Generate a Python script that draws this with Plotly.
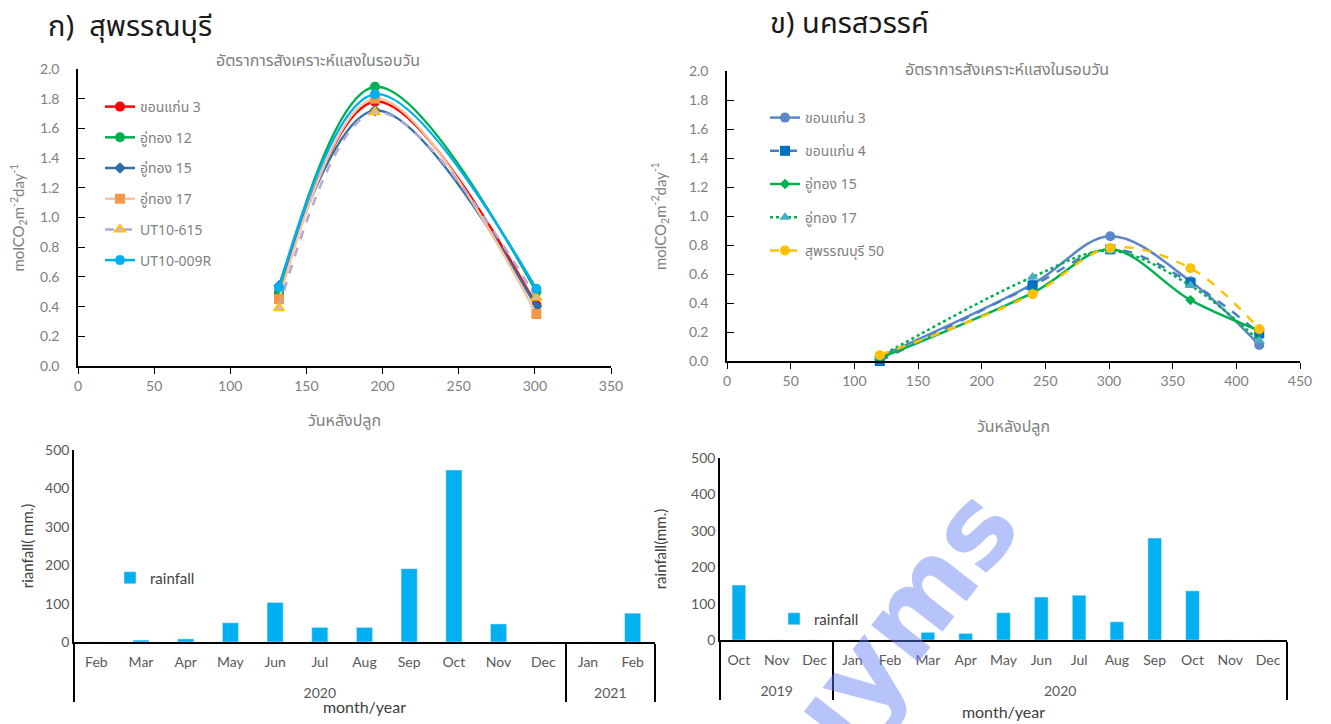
import plotly.graph_objects as go

# The page body has an 8 px margin; the figure starts 8 px in from the window's corner.
OFF = 8
W, H = 1331 - OFF, 724 - OFF

# ---------- Top-left: สุพรรณบุรี ----------
sp_days = [132, 195, 301]
sp_kk3 = [0.49, 1.78, 0.41]
sp_ut12 = [0.50, 1.88, 0.50]
sp_ut15 = [0.54, 1.72, 0.40]
sp_ut17 = [0.45, 1.80, 0.35]
sp_ut10_615 = [0.39, 1.71, 0.46]
sp_ut10_009r = [0.53, 1.83, 0.52]

# ---------- Top-right: นครสวรรค์ ----------
ns_days = [120, 240, 301, 364, 418]
ns_kk3 = [0.03, 0.53, 0.86, 0.55, 0.11]
ns_kk4 = [0.00, 0.52, 0.77, 0.54, 0.19]
ns_ut15 = [0.02, 0.47, 0.77, 0.42, 0.21]
ns_ut17 = [0.03, 0.58, 0.76, 0.52, 0.14]
ns_sp50 = [0.04, 0.46, 0.78, 0.64, 0.22]

# ---------- Bottom-left rainfall ----------
# (a zero-width space keeps repeated month names as distinct categories;
#  the <br> only pushes the year row a line lower)
ZW = "\u200b"
bl_years = ["<br>2020"] * 11 + ["<br>2021"] * 2
bl_months = ["Feb", "Mar", "Apr", "May", "Jun", "Jul", "Aug", "Sep", "Oct", "Nov", "Dec", "Jan", "Feb" + ZW]
bl_rain = [0, 5, 8, 50, 103, 38, 38, 191, 448, 47, 0, 0, 75]

# ---------- Bottom-right rainfall ----------
br_years = ["<br>2019"] * 3 + ["<br>2020"] * 12
br_months = ["Oct", "Nov", "Dec", "Jan", "Feb", "Mar", "Apr", "May", "Jun", "Jul", "Aug", "Sep",
             "Oct" + ZW, "Nov" + ZW, "Dec" + ZW]
br_rain = [151, 0, 0, 0, 0, 21, 18, 75, 118, 123, 50, 280, 135, 0, 0]


def px_x(p):
    return (p - OFF) / W


def px_y(p):
    return 1 - (p - OFF) / H


THAI = "Noto Sans Thai, Tahoma, Leelawadee UI, Noto Sans, DejaVu Sans, sans-serif"
LAT = "Lato, Noto Sans, sans-serif"
GREY = "#808080"
DGREY = "#404040"

fig = go.Figure()


def line_trace(x, y, name, lcolor, mcolor, symbol, dash="solid", xa="x", ya="y",
               legend="legend", mline=None, size=10, group=None):
    return go.Scatter(
        x=x, y=y, name=name, mode="lines+markers",
        line=dict(color=lcolor, width=2.5, dash=dash, shape="spline", smoothing=1.0),
        marker=dict(color=mcolor, symbol=symbol, size=size,
                    line=mline if mline else dict(width=0)),
        xaxis=xa, yaxis=ya, legend=legend, legendgroup=group or name,
        cliponaxis=False,
    )


# top-left series
fig.add_trace(line_trace(sp_days, sp_kk3, "ขอนแก่น 3", "#ff0000", "#ff0000", "circle", group="a1"))
fig.add_trace(line_trace(sp_days, sp_ut12, "อู่ทอง 12", "#00b050", "#00b050", "circle", group="a2"))
fig.add_trace(line_trace(sp_days, sp_ut15, "อู่ทอง 15", "#2e74a8", "#2e6da4", "diamond", size=9, group="a3"))
fig.add_trace(line_trace(sp_days, sp_ut17, "อู่ทอง 17", "#f8c4a0", "#f79646", "square", group="a4"))
fig.add_trace(line_trace(sp_days, sp_ut10_615, "UT10-615", "#b4a7d6", "#c9b8e0", "triangle-up", dash="dash",
                         mline=dict(color="#ffc000", width=1.8), size=9, group="a5"))
fig.add_trace(line_trace(sp_days, sp_ut10_009r, "UT10-009R", "#00b0f0", "#00b0f0", "circle", group="a6"))

# top-right series
fig.add_trace(line_trace(ns_days, ns_kk3, "ขอนแก่น 3", "#5b87c5", "#5b87c5", "circle", xa="x2", ya="y2",
                         legend="legend2", group="b1"))
fig.add_trace(line_trace(ns_days, ns_kk4, "ขอนแก่น 4", "#4a7cc4", "#0070c0", "square", dash="dash", xa="x2", ya="y2",
                         legend="legend2", group="b2"))
fig.add_trace(line_trace(ns_days, ns_ut15, "อู่ทอง 15", "#00b050", "#00b050", "diamond", xa="x2", ya="y2",
                         legend="legend2", size=8, group="b3"))
fig.add_trace(line_trace(ns_days, ns_ut17, "อู่ทอง 17", "#00b050", "#4bacc6", "triangle-up", dash="dot", xa="x2", ya="y2",
                         legend="legend2", group="b4"))
fig.add_trace(line_trace(ns_days, ns_sp50, "สุพรรณบุรี 50", "#ffc000", "#ffc000", "circle", dash="dash", xa="x2", ya="y2",
                         legend="legend2", group="b5"))

# bars
fig.add_trace(go.Bar(x=[bl_years, bl_months], y=bl_rain, name="rainfall", marker_color="#00b0f0",
                     xaxis="x3", yaxis="y3", legend="legend3"))
fig.add_trace(go.Bar(x=[br_years, br_months], y=br_rain, name="rainfall", marker_color="#00b0f0",
                     xaxis="x4", yaxis="y4", legend="legend4"))

tick_grey = dict(family=LAT, size=14, color=GREY)

fig.update_layout(
    width=W, height=H,
    margin=dict(l=0, r=0, t=0, b=0, autoexpand=False),
    paper_bgcolor="white", plot_bgcolor="white",
    font=dict(family=THAI, color=GREY),
    bargap=0.64,
    xaxis=dict(domain=[px_x(78), px_x(611)], range=[0, 350], dtick=50, anchor="y", automargin=False,
               showline=True, linecolor="black", linewidth=1.5, ticks="outside", ticklen=6,
               tickcolor="black", showgrid=False, zeroline=False, tickfont=tick_grey,
               title=dict(text="วันหลังปลูก", font=dict(family=THAI, size=16, color=GREY), standoff=22)),
    yaxis=dict(domain=[px_y(366), px_y(69)], range=[0, 2.0], dtick=0.2, tickformat=".1f", anchor="x",
               automargin=False,
               showline=True, linecolor="black", linewidth=1.5, ticks="inside", ticklen=7,
               tickcolor="black", showgrid=False, zeroline=False, tickfont=tick_grey, ticklabelstandoff=14,
               title=dict(text="molCO<sub>2</sub>m<sup>-2</sup>day<sup>-1</sup>",
                          font=dict(family=LAT, size=15, color=GREY), standoff=14)),
    xaxis2=dict(domain=[px_x(727), px_x(1300)], range=[0, 450], dtick=50, anchor="y2", automargin=False,
                showline=True, linecolor="black", linewidth=1.5, ticks="outside", ticklen=6,
                tickcolor="black", showgrid=False, zeroline=False, tickfont=tick_grey,
                title=dict(text="วันหลังปลูก", font=dict(family=THAI, size=16, color=GREY), standoff=33)),
    yaxis2=dict(domain=[px_y(361), px_y(71)], range=[0, 2.0], dtick=0.2, tickformat=".1f", anchor="x2",
                automargin=False,
                showline=True, linecolor="black", linewidth=1.5, ticks="inside", ticklen=7,
                tickcolor="black", showgrid=False, zeroline=False, tickfont=tick_grey, ticklabelstandoff=14,
                title=dict(text="molCO<sub>2</sub>m<sup>-2</sup>day<sup>-1</sup>",
                           font=dict(family=LAT, size=15, color=GREY), standoff=19)),
    xaxis3=dict(domain=[px_x(74), px_x(655)], type="multicategory", anchor="y3", automargin=False,
                showline=True, linecolor="black", linewidth=1.5, ticks="", ticklabelstandoff=6,
                showdividers=True, dividercolor="black", dividerwidth=1.5,
                showgrid=False, zeroline=False, tickfont=dict(family=LAT, size=14, color="#595959"),
                title=dict(text="month/year", font=dict(family=LAT, size=16, color=DGREY), standoff=2)),
    yaxis3=dict(domain=[px_y(642), px_y(450)], range=[0, 500], dtick=100, anchor="x3", automargin=False,
                showline=True, linecolor="black", linewidth=1.5, ticks="",
                showgrid=False, zeroline=False, tickfont=dict(family=LAT, size=14, color="#595959"),
                title=dict(text="rianfall( mm.)", font=dict(family=LAT, size=15, color=DGREY), standoff=8)),
    xaxis4=dict(domain=[px_x(720), px_x(1287)], type="multicategory", anchor="y4", automargin=False,
                showline=True, linecolor="black", linewidth=1.5, ticks="", ticklabelstandoff=6,
                showdividers=True, dividercolor="black", dividerwidth=1.5,
                showgrid=False, zeroline=False, tickfont=dict(family=LAT, size=14, color="#595959"),
                title=dict(text="month/year", font=dict(family=LAT, size=16, color=DGREY), standoff=9)),
    yaxis4=dict(domain=[px_y(640), px_y(458)], range=[0, 500], dtick=100, anchor="x4", automargin=False,
                showline=True, linecolor="black", linewidth=1.5, ticks="",
                showgrid=False, zeroline=False, tickfont=dict(family=LAT, size=14, color="#595959"),
                title=dict(text="rainfall(mm.)", font=dict(family=LAT, size=15, color=DGREY), standoff=21)),
    legend=dict(x=px_x(100), y=px_y(91), xanchor="left", yanchor="top", bgcolor="rgba(0,0,0,0)",
                font=dict(family=THAI, size=14, color=GREY), traceorder="grouped", tracegroupgap=9.5),
    legend2=dict(x=px_x(765), y=px_y(102), xanchor="left", yanchor="top", bgcolor="rgba(0,0,0,0)",
                 font=dict(family=THAI, size=14, color=GREY), traceorder="grouped", tracegroupgap=12),
    legend3=dict(x=px_x(110), y=px_y(578), xanchor="left", yanchor="middle", bgcolor="rgba(0,0,0,0)",
                 font=dict(family=LAT, size=15, color=DGREY), itemwidth=30),
    legend4=dict(x=px_x(774), y=px_y(619), xanchor="left", yanchor="middle", bgcolor="rgba(0,0,0,0)",
                 font=dict(family=LAT, size=15, color=DGREY), itemwidth=30),
    annotations=[
        dict(text="ก)  สุพรรณบุรี", x=px_x(46), y=px_y(27), xref="paper", yref="paper",
             xanchor="left", yanchor="middle", showarrow=False,
             font=dict(family=THAI, size=29, color="#1a1a1a")),
        dict(text="ข) นครสวรรค์", x=px_x(768), y=px_y(24), xref="paper", yref="paper",
             xanchor="left", yanchor="middle", showarrow=False,
             font=dict(family=THAI, size=29, color="#1a1a1a")),
        dict(text="อัตราการสังเคราะห์แสงในรอบวัน", x=px_x(318), y=px_y(61), xref="paper", yref="paper",
             xanchor="center", yanchor="middle", showarrow=False,
             font=dict(family=THAI, size=16, color=GREY)),
        dict(text="อัตราการสังเคราะห์แสงในรอบวัน", x=px_x(1007), y=px_y(70), xref="paper", yref="paper",
             xanchor="center", yanchor="middle", showarrow=False,
             font=dict(family=THAI, size=16, color=GREY)),
        dict(text="<b>ıyms</b>", x=px_x(905), y=px_y(618), xref="paper", yref="paper",
             xanchor="center", yanchor="middle", showarrow=False, textangle=-52,
             font=dict(family="DejaVu Sans", size=110, color="rgba(95,125,245,0.45)")),
    ],
)

fig.write_html("out.html")
